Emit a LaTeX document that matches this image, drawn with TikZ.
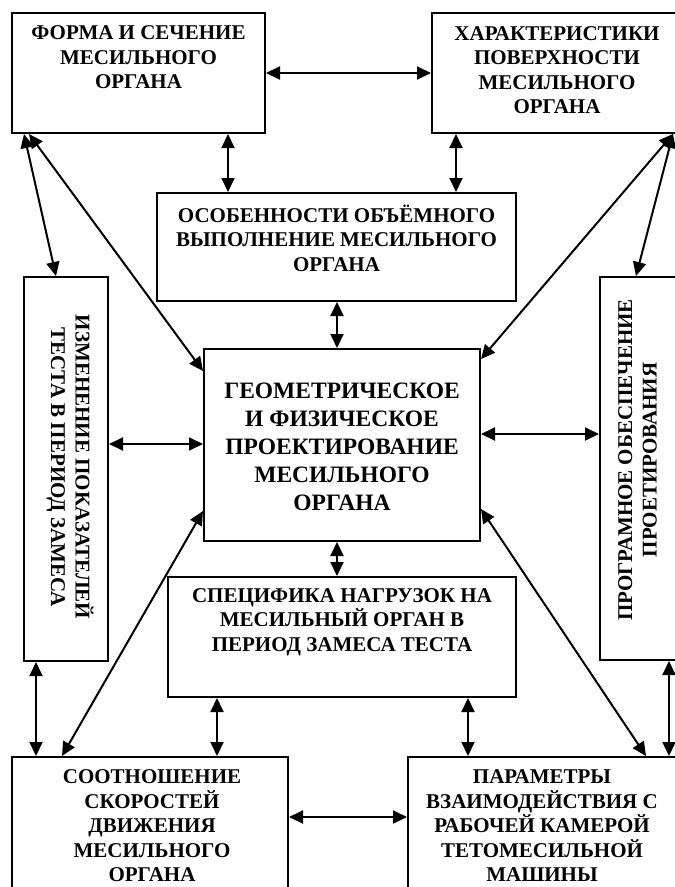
\documentclass[tikz,border=0pt]{standalone}
\usepackage{fontspec}
\setmainfont{Liberation Serif}
\usetikzlibrary{arrows.meta,calc}
\begin{document}
\begin{tikzpicture}[x=1pt,y=-1pt,
  box/.style={draw, line width=2pt, rectangle, inner sep=0pt},
  txt/.style={font=\fontsize{21}{24.5}\selectfont\bfseries, align=center, inner sep=0pt},
  bigtxt/.style={font=\fontsize{23.5}{28}\selectfont\bfseries, align=center, inner sep=0pt},
  arr/.style={line width=2pt, {Triangle[length=14pt,width=13pt]}-{Triangle[length=14pt,width=13pt]}}]
\useasboundingbox (0,0) rectangle (675,887);
\clip (0,0) rectangle (675,887);
% boxes
\node[box, minimum width=253, minimum height=120] (A) at (138.5,73) {};
\node[box, minimum width=246, minimum height=120] (B) at (555,73) {};
\node[box, minimum width=359, minimum height=108] (C) at (336.5,247) {};
\node[box, minimum width=84, minimum height=384] (D) at (66,469) {};
\node[box, minimum width=276, minimum height=192] (E) at (342,445) {};
\node[box, minimum width=348, minimum height=120] (F) at (342,637) {};
\node[box, minimum width=78, minimum height=383] (G) at (639,468.5) {};
\node[box, minimum width=276, minimum height=153] (H) at (150,833.5) {};
\node[box, minimum width=270, minimum height=153] (I) at (543,833.5) {};
% texts
\node[txt] (At) at (138.5,57.5) {ФОРМА И СЕЧЕНИЕ\\МЕСИЛЬНОГО\\ОРГАНА};
\node[txt] (Bt) at (557,70) {ХАРАКТЕРИСТИКИ\\ПОВЕРХНОСТИ\\МЕСИЛЬНОГО\\ОРГАНА};
\node[txt] (Ct) at (336.5,238) {ОСОБЕННОСТИ ОБЪЁМНОГО\\ВЫПОЛНЕНИЕ МЕСИЛЬНОГО\\ОРГАНА};
\node[txt, rotate=-90] (Dt) at (70,467) {ИЗМЕНЕНИЕ ПОКАЗАТЕЛЕЙ\\ТЕСТА В ПЕРИОД ЗАМЕСА};
\node[bigtxt] (Et) at (342,447) {ГЕОМЕТРИЧЕСКОЕ\\И ФИЗИЧЕСКОЕ\\ПРОЕКТИРОВАНИЕ\\МЕСИЛЬНОГО\\ОРГАНА};
\node[txt] (Ft) at (342,622) {СПЕЦИФИКА НАГРУЗОК НА\\МЕСИЛЬНЫЙ ОРГАН В\\ПЕРИОД ЗАМЕСА ТЕСТА};
\node[txt, rotate=90] (Gt) at (637.5,460) {ПРОГРАМНОЕ ОБЕСПЕЧЕНИЕ\\ПРОЕТИРОВАНИЯ};
\node[txt] (Ht) at (152,826) {СООТНОШЕНИЕ\\СКОРОСТЕЙ\\ДВИЖЕНИЯ\\МЕСИЛЬНОГО\\ОРГАНА};
\node[txt] (It) at (542,826) {ПАРАМЕТРЫ\\ВЗАИМОДЕЙСТВИЯ С\\РАБОЧЕЙ КАМЕРОЙ\\ТЕТОМЕСИЛЬНОЙ\\МАШИНЫ};
% guide coordinates
\coordinate (k1) at (228,0);
\coordinate (k2) at (456,0);
\coordinate (k3) at (337,0);
\coordinate (k4) at (217,0);
\coordinate (k5) at (468,0);
\coordinate (k6) at (0,817);
\coordinate (k7) at (0,444);
\coordinate (k8) at (0,434);
\coordinate (k9) at (36,0);
\coordinate (k10) at (669,0);
% connectors
\draw[arr] (A.east) -- (B.west);
\draw[arr] (A.south -| k1) -- (C.north -| k1);
\draw[arr] (B.south -| k2) -- (C.north -| k2);
\draw[arr] (C.south -| k3) -- (E.north -| k3);
\draw[arr] (E.south -| k3) -- (F.north -| k3);
\draw[arr] (F.south -| k4) -- (H.north -| k4);
\draw[arr] (F.south -| k5) -- (I.north -| k5);
\draw[arr] (H.east |- k6) -- (I.west |- k6);
\draw[arr] (D.east |- k7) -- (E.west |- k7);
\draw[arr] (E.east |- k8) -- (G.west |- k8);
\draw[arr] (D.south -| k9) -- (H.north -| k9);
\draw[arr] (G.south -| k10) -- (I.north -| k10);
\draw[arr] ([xshift=13pt]A.south west) -- ([xshift=33pt]D.north west);
\draw[arr] ([xshift=18pt]A.south west) -- ([yshift=-23pt]E.north west);
\draw[arr] ([xshift=-6pt]B.south east) -- ([yshift=-11pt]E.north east);
\draw[arr] ([xshift=-6pt]B.south east) -- ([xshift=37pt]G.north west);
\draw[arr] ([yshift=31pt]E.south west) -- ([xshift=51pt]H.north west);
\draw[arr] ([yshift=33pt]E.south east) -- ([xshift=239pt]I.north west);
\end{tikzpicture}
\end{document}
